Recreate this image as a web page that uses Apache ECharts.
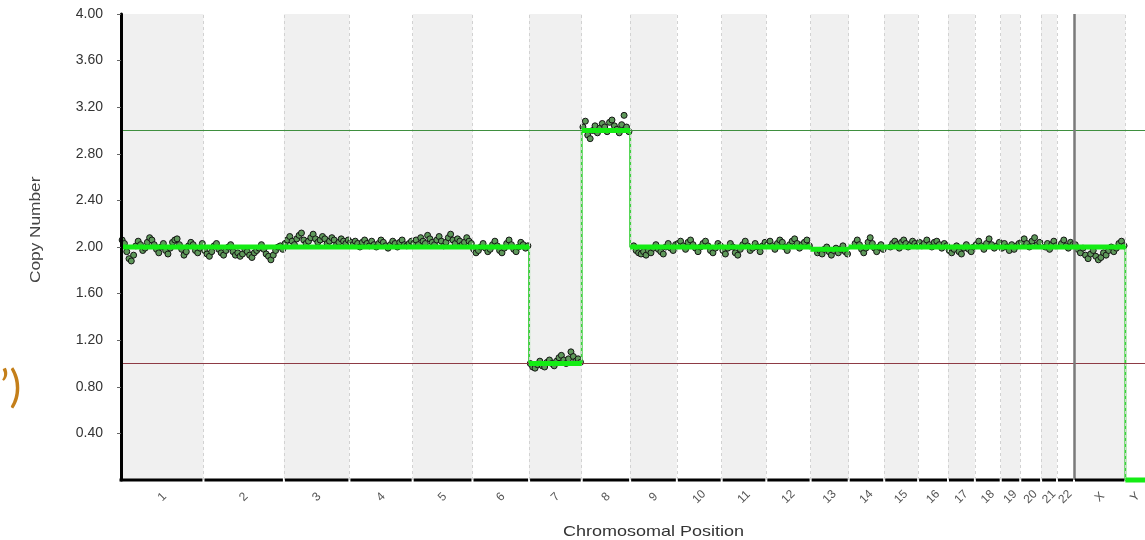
<!DOCTYPE html>
<html>
<head>
<meta charset="utf-8">
<script src="https://cdn.jsdelivr.net/npm/echarts@6/dist/echarts.min.js"></script>
<style>
html,body{margin:0;padding:0;background:#fff;}
#chart{width:1145px;height:540px;}
</style>
</head>
<body>
<div id="chart"></div>
<script>
// ---- data ----
const chromNames = ['1','2','3','4','5','6','7','8','9','10','11','12','13','14','15','16','17','18','19','20','21','22','X','Y'];
const chromLengths = [249.3,243.2,198.0,191.2,180.9,171.1,159.1,146.4,141.2,135.5,135.0,133.9,115.2,107.3,102.5,90.4,81.2,78.1,59.1,63.0,48.1,51.3,155.3,59.4];
const segmentValues = [2,2,2,2,2,2,1,3,2,2,2,2,1.98,2,2,2,2,2,2,2,2,2,2,0];
const dataStartFraction = [0,0,0,0,0,0,0,0,0.05,0,0,0,0.15,0.15,0.15,0,0,0,0,0,0.2,0.2,0,0];
const yTickValues = [0.4,0.8,1.2,1.6,2.0,2.4,2.8,3.2,3.6,4.0];
const gainThreshold = 3.0;
const lossThreshold = 1.0;

const pts1 = [2.06,2.03,1.96,1.90,1.88,1.93,2.01,2.05,2.02,1.97,1.99,2.04,2.08,2.06,2.02,1.98,1.95,2.00,2.03,1.97,1.94,1.99,2.04,2.06,2.07,2.02,1.98,1.93,1.96,2.01,2.04,2.02,1.97,1.95,1.99,2.03];
const pts2 = [1.97,1.94,1.92,1.96,2.01,2.03,1.98,1.95,1.93,1.97,2.00,2.02,1.96,1.93,1.95,1.92,1.94,1.98,1.96,1.93,1.91,1.95,1.97,1.99,2.02,1.98,1.94,1.92,1.89,1.93,1.97,2.00,2.01,1.98];
const pts3 = [2.03,2.06,2.09,2.05,2.02,2.07,2.10,2.12,2.06,2.03,2.05,2.08,2.11,2.07,2.04,2.06,2.09,2.07,2.03,2.05,2.08,2.06,2.02,2.04,2.07,2.05,2.03,2.06];
const pts4 = [2.04,2.02,2.05,2.03,2.00,2.04,2.06,2.03,2.01,2.05,2.02,2.00,2.03,2.06,2.04,2.01,1.99,2.02,2.05,2.03,2.00,2.04,2.06,2.02,2.01,2.03,2.05];
const pts5 = [2.03,2.06,2.02,2.08,2.05,2.03,2.10,2.07,2.04,2.02,2.06,2.09,2.05,2.01,2.04,2.08,2.11,2.06,2.03,2.07,2.05,2.02,2.04,2.08,2.05,2.03];
const pts6 = [1.98,1.95,1.97,2.00,2.03,1.99,1.96,1.98,2.02,2.05,2.01,1.97,1.95,1.99,2.03,2.06,2.02,1.98,1.96,2.00,2.04,2.02,1.99,2.01];
const pts7 = [1.00,0.97,0.96,0.99,1.02,0.98,0.97,1.01,1.03,1.00,0.98,1.02,1.05,1.07,1.03,1.00,1.04,1.10,1.06,1.02,1.04,1.01];
const pts8 = [3.03,3.08,2.96,2.93,3.00,3.04,2.98,3.02,3.06,3.03,2.99,3.07,3.09,3.04,3.01,2.98,3.05,3.13,3.03,2.99];
const pts9 = [2.01,1.97,1.95,1.94,1.96,1.93,1.97,1.95,1.99,2.02,1.98,1.96,1.94,2.00,2.03,1.99,1.97,2.02];
const pts10 = [2.03,2.05,2.01,1.98,2.04,2.06,2.02,1.99,1.96,2.00,2.03,2.05,2.01,1.97,1.95,1.99,2.03,2.01];
const pts11 = [1.97,1.94,1.99,2.03,2.00,1.95,1.93,1.98,2.02,2.05,2.01,1.97,1.99,2.03,2.00,1.96,2.01,2.04];
const pts12 = [2.02,2.05,2.01,1.98,2.03,2.06,2.04,2.00,1.97,2.02,2.05,2.07,2.03,1.99,2.02,2.04,2.06,2.01];
const pts13 = [1.95,1.97,1.94,1.98,2.00,1.96,1.93,1.97,1.99,1.95,1.98,2.01,1.96,1.94];
const pts14 = [2.03,2.06,2.02,1.98,1.95,1.99,2.04,2.08,2.03,1.99,1.96,2.00,2.02,1.98];
const pts15 = [2.00,2.03,2.05,2.02,1.99,2.04,2.06,2.03,2.00,2.02,2.05,2.03,2.01];
const pts16 = [2.04,2.01,2.03,2.06,2.02,2.00,2.04,2.05,2.02,1.99,2.03,2.01];
const pts17 = [1.97,1.95,1.98,2.01,1.96,1.94,1.99,2.02,1.98,1.96,2.00];
const pts18 = [2.02,2.05,2.01,1.98,2.03,2.07,2.02,1.99,2.01,2.04];
const pts19 = [1.99,2.03,2.00,1.97,2.02,1.98,2.01,2.03];
const pts20 = [2.04,2.07,2.03,2.00,2.05,2.08,2.02,2.04];
const pts21 = [2.00,2.03,1.98,2.02,2.05,2.01];
const pts22 = [2.03,2.06,2.01,1.99,2.04,2.02];
const ptsX = [2.02,1.98,1.95,1.99,1.93,1.90,1.94,1.97,1.92,1.89,1.91,1.95,1.93,1.97,2.00,1.96,1.99,2.03,2.05,2.01];
const ptsY = [];
const pointValues = [pts1,pts2,pts3,pts4,pts5,pts6,pts7,pts8,pts9,pts10,pts11,pts12,pts13,pts14,pts15,pts16,pts17,pts18,pts19,pts20,pts21,pts22,ptsX,ptsY];

// ---- derived ----
const chromStarts = [];
let acc = 0;
chromLengths.forEach(l => { chromStarts.push(acc); acc += l; });
const genomeTotal = acc;
const chromMids = chromStarts.map((s, i) => s + chromLengths[i] / 2);
const xStartIdx = chromNames.indexOf('X');

const scatterData = [];
pointValues.forEach((vals, c) => {
  const s = chromStarts[c] + chromLengths[c] * dataStartFraction[c];
  const len = chromLengths[c] * (1 - dataStartFraction[c]);
  vals.forEach((v, i) => scatterData.push([s + (i + 0.5) / vals.length * len, v]));
});

const thickData = [];
const thinData = [];
segmentValues.forEach((v, c) => {
  const s = chromStarts[c], e = s + chromLengths[c];
  thickData.push([s, v], [e, v], [e, '-']);
  thinData.push([s, v], [e, v]);
});

const bandAreas = [];
chromStarts.forEach((s, i) => { if (i % 2 === 0) bandAreas.push([{xAxis: s}, {xAxis: s + chromLengths[i]}]); });
const boundaryLines = chromStarts.slice(1).filter((s, i) => i + 1 !== xStartIdx).map(s => ({xAxis: s}));

const FONT = 'Liberation Sans, Arial, sans-serif';
const chart = echarts.init(document.getElementById('chart'), null, {renderer: 'canvas'});
chart.setOption({
  animation: false,
  backgroundColor: '#fff',
  grid: {left: 121, top: 14, width: 1029, height: 466, containLabel: false},
  xAxis: {
    type: 'value', min: 0, max: genomeTotal,
    axisLine: {show: false},
    axisTick: {show: false},
    splitLine: {show: false},
    axisLabel: {
      customValues: chromMids,
      formatter: (v) => {
        let best = 0;
        chromMids.forEach((m, i) => { if (Math.abs(m - v) < Math.abs(chromMids[best] - v)) best = i; });
        return chromNames[best];
      },
      rotate: 45, align: 'center', verticalAlign: 'middle', margin: 17,
      color: '#555', fontSize: 12, fontFamily: FONT
    }
  },
  yAxis: {
    type: 'value', min: 0, max: 4, interval: 0.4, z: 10,
    axisLine: {show: true, lineStyle: {color: '#000', width: 3}},
    axisTick: {show: true, length: 4, customValues: yTickValues, lineStyle: {color: '#666'}},
    splitLine: {show: false},
    axisLabel: {
      customValues: yTickValues,
      formatter: v => (v === 0 ? '' : v.toFixed(2)),
      color: '#333', fontSize: 14, margin: 18, fontFamily: FONT
    }
  },
  series: [
    {
      type: 'scatter', data: [], z: 1, silent: true,
      markArea: {silent: true, itemStyle: {color: '#f0f0f0'}, data: bandAreas},
      markLine: {silent: true, symbol: 'none', label: {show: false},
        lineStyle: {color: '#d2d2d2', width: 1, type: [3, 3]}, data: boundaryLines}
    },
    {
      type: 'scatter', data: [], z: 2, silent: true,
      markLine: {silent: true, symbol: 'none', label: {show: false},
        data: [
          {yAxis: gainThreshold, lineStyle: {color: '#3f8f3f', width: 1.2, type: 'solid'}},
          {yAxis: lossThreshold, lineStyle: {color: '#8e3b45', width: 1.2, type: 'solid'}},
          {xAxis: chromStarts[xStartIdx], lineStyle: {color: '#7a7a7a', width: 2.5, type: 'solid'}}
        ]}
    },
    {
      type: 'scatter', data: scatterData, z: 3, silent: true,
      symbol: 'circle', symbolSize: 6,
      itemStyle: {color: '#5e985a', borderColor: '#141414', borderWidth: 1, opacity: 1}
    },
    {
      type: 'line', data: thinData, z: 4, silent: true, symbol: 'none',
      lineStyle: {color: '#3fd03f', width: 2}
    },
    {
      type: 'custom', z: 5, silent: true, clip: false,
      data: chromStarts.map((s, i) => [s, s + chromLengths[i]]),
      encode: {x: [0, 1]},
      renderItem: (params, api) => {
        const a = api.coord([api.value(0), 0]);
        const b = api.coord([api.value(1), 0]);
        const off = params.dataIndex === 0 ? -1.5 : 1;
        return {type: 'line', shape: {x1: a[0] + off, y1: a[1], x2: b[0] - 1, y2: b[1]},
          style: {stroke: '#000', lineWidth: 3}};
      }
    },
    {
      type: 'line', data: thickData, z: 6, silent: true, symbol: 'none', clip: false,
      connectNulls: false,
      lineStyle: {color: '#14ec14', width: 5}
    }
  ],
  graphic: [
    {type: 'text', left: 563, top: 524, style: {text: 'Chromosomal Position', fill: '#333', font: '15px ' + FONT}, scaleX: 1.2},
    {type: 'text', x: 28, y: 283, rotation: Math.PI / 2, scaleX: 1.15,
      style: {text: 'Copy Number', fill: '#444', font: '15px ' + FONT, textAlign: 'left', textVerticalAlign: 'top'}},
    {type: 'text', x: 0, y: 388, style: {text: '’)', fill: '#c47f1a', font: '44px Lato, sans-serif', textAlign: 'left', textVerticalAlign: 'middle'}}
  ]
});
</script>
</body>
</html>
